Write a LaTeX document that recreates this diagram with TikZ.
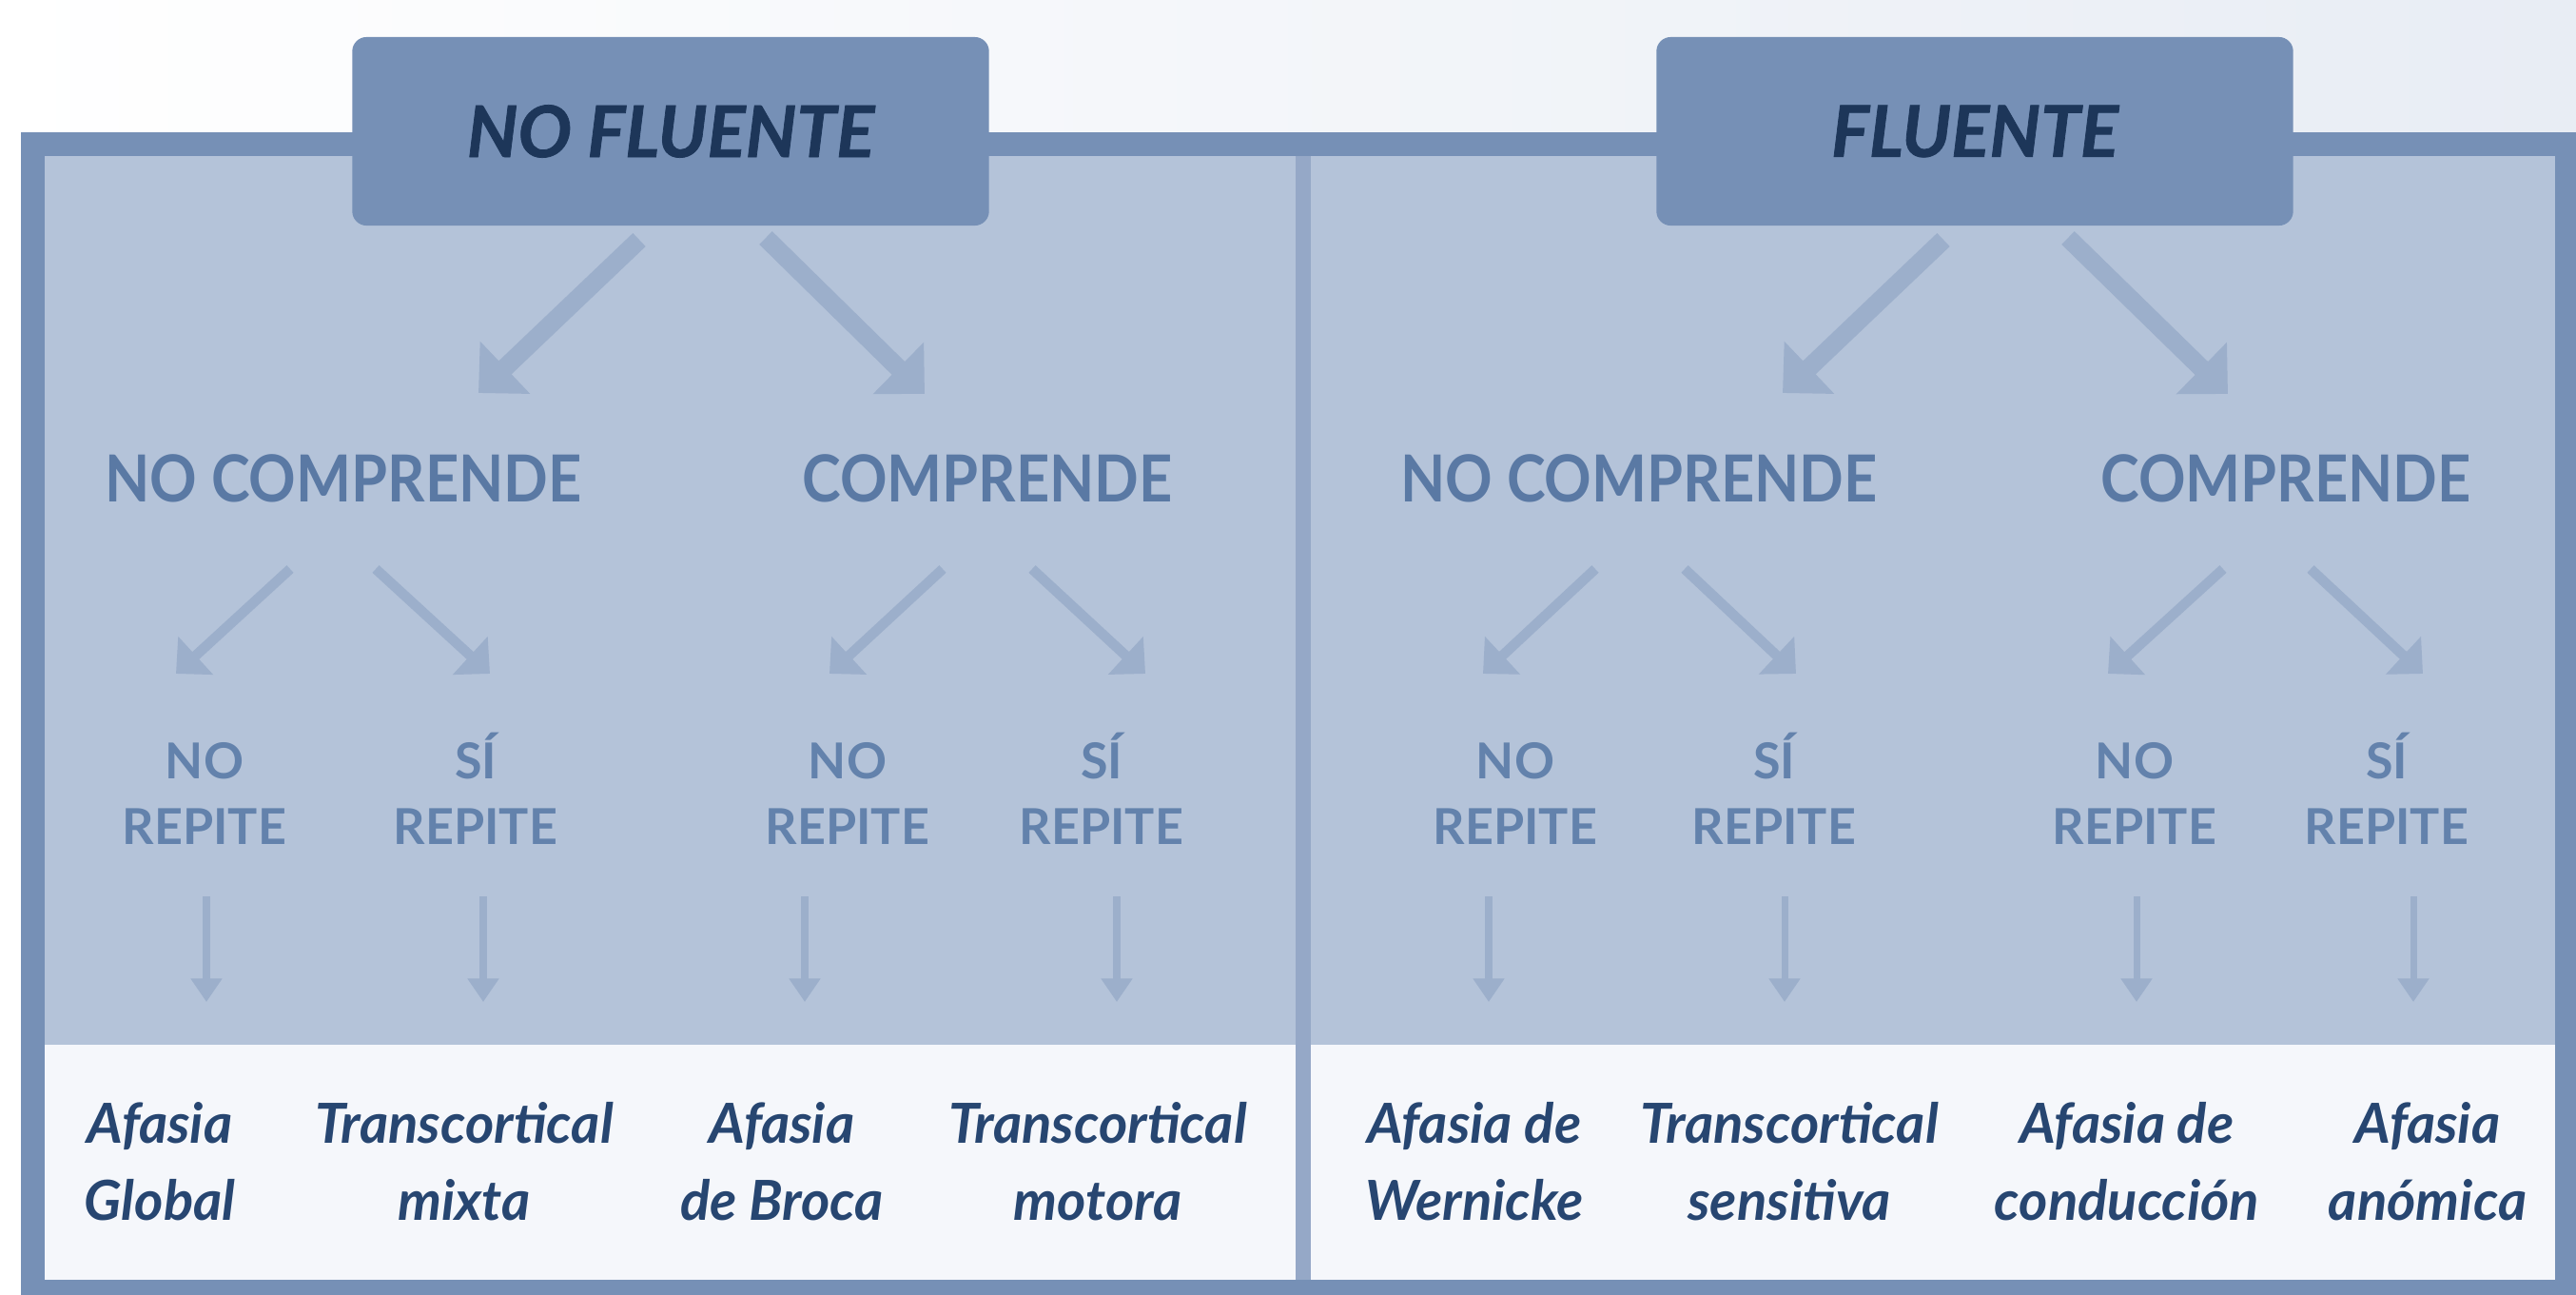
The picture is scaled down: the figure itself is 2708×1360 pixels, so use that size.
\documentclass[tikz,border=0pt]{standalone}
\usepackage{fontspec}
\setmainfont{Lato}
\newfontfamily\latocond{Lato}[FakeStretch=0.9]
\newfontfamily\latoheavy{Lato}[BoldFeatures={FakeBold=1}, BoldItalicFeatures={FakeBold=1}]
\usetikzlibrary{arrows.meta}

\definecolor{framecol}{HTML}{7690B6}
\definecolor{panelcol}{HTML}{B4C3D9}
\definecolor{bandcol}{HTML}{F5F7FB}
\definecolor{dividercol}{HTML}{95A8C7}
\definecolor{titleink}{HTML}{1D3659}
\definecolor{levelink}{HTML}{5A79A4}
\definecolor{repink}{HTML}{6382AC}
\definecolor{arrowcol}{HTML}{9CAFCB}
\definecolor{resultink}{HTML}{274671}

\tikzset{
  titlebox/.style={fill=framecol, rounded corners=0.15cm, minimum width=6.69cm,
    minimum height=1.98cm, text=titleink,
    font=\latoheavy\bfseries\itshape\fontsize{21.3pt}{24pt}\selectfont},
  compr/.style={anchor=base, text=levelink, inner sep=0pt,
    font=\latocond\bfseries\fontsize{19.4pt}{22pt}\selectfont},
  repite/.style={anchor=base, align=center, text=repink, inner sep=0pt,
    font=\bfseries\fontsize{14.8pt}{19.6pt}\selectfont},
  afasia/.style={anchor=base, align=center, text=resultink, inner sep=0pt,
    font=\bfseries\itshape\fontsize{16.5pt}{22.8pt}\selectfont},
  bigarrow/.style={draw=arrowcol, line width=5.5pt, -{Triangle[length=11pt,width=21pt]}},
  midarrow/.style={draw=arrowcol, line width=3pt, -{Triangle[length=8pt,width=15pt]}},
  thinarrow/.style={draw=arrowcol, line width=2pt, -{Triangle[length=7pt,width=9pt]}}
}

\begin{document}
\begin{tikzpicture}[x=0.01cm, y=-0.01cm]
    \useasboundingbox (0,0) rectangle (2708,1360);
    \shade[left color=white, right color=bandcol!80!panelcol] (0,0) rectangle (2708,1360);

    % frame and panels
    \fill[framecol] (22,139) rectangle (2720,1380);
    \fill[panelcol] (47,164) rectangle (1362,1098);
    \fill[panelcol] (1378,164) rectangle (2686,1098);
    \fill[bandcol] (47,1098) rectangle (1362,1345);
    \fill[bandcol] (1378,1098) rectangle (2686,1345);
    \fill[dividercol] (1362,164) rectangle (1378,1345);

    % titles
    \node[titlebox] (nf) at (705,138) {NO FLUENTE};
    \node[titlebox] (fl) at (2076,138) {FLUENTE};

    % second level
    \node[compr] (nc1) at (361,527) {NO COMPRENDE};
    \node[compr] (c1) at (1038,527) {COMPRENDE};
    \node[compr] (nc2) at (1723,527) {NO COMPRENDE};
    \node[compr] (c2) at (2403,527) {COMPRENDE};

    % third level
    \foreach \x/\w [count=\i] in {215/NO, 500/SÍ, 891/NO, 1158/SÍ, 1593/NO, 1865/SÍ, 2244/NO, 2509/SÍ}
        \node[repite] (r\i) at (\x,887) {\w\\REPITE};

    % results
    \node[afasia] (af1) at (168,1282) {Afasia\\Global};
    \node[afasia] (af2) at (488,1282) {Transcortical\\mixta};
    \node[afasia] (af3) at (822,1282) {Afasia\\de Broca};
    \node[afasia] (af4) at (1154,1282) {Transcortical\\motora};
    \node[afasia] (af5) at (1550,1282) {Afasia de\\Wernicke};
    \node[afasia] (af6) at (1881,1282) {Transcortical\\sensitiva};
    \node[afasia] (af7) at (2236,1282) {Afasia de\\conducción};
    \node[afasia] (af8) at (2552,1282) {Afasia\\anómica};

    % arrow ends
    \coordinate (nfa) at (672,252);  \coordinate (nfb) at (503,413);
    \coordinate (nfc) at (805,250);  \coordinate (nfd) at (972,414);
    \coordinate (fla) at (2043,252); \coordinate (flb) at (1874,413);
    \coordinate (flc) at (2174,250); \coordinate (fld) at (2342,414);
    \foreach \s/\t [count=\i] in {305/185, 395/515, 991/872, 1085/1204, 1677/1559, 1771/1888, 2337/2216, 2429/2547} {
        \coordinate (d\i) at (\s,598);
        \coordinate (e\i) at (\t,708);
    }
    \foreach \x [count=\i] in {217, 508, 846, 1174, 1565, 1876, 2246, 2537} {
        \coordinate (v\i) at (\x,942);
        \coordinate (w\i) at (\x,1053);
    }

    % title arrows
    \draw[bigarrow] (nfa) -- (nfb);
    \draw[bigarrow] (nfc) -- (nfd);
    \draw[bigarrow] (fla) -- (flb);
    \draw[bigarrow] (flc) -- (fld);

    % comprende arrows
    \foreach \i in {1,...,8}
        \draw[midarrow] (d\i) -- (e\i);

    % repite arrows
    \foreach \i in {1,...,8}
        \draw[thinarrow] (v\i) -- (w\i);
\end{tikzpicture}
\end{document}
